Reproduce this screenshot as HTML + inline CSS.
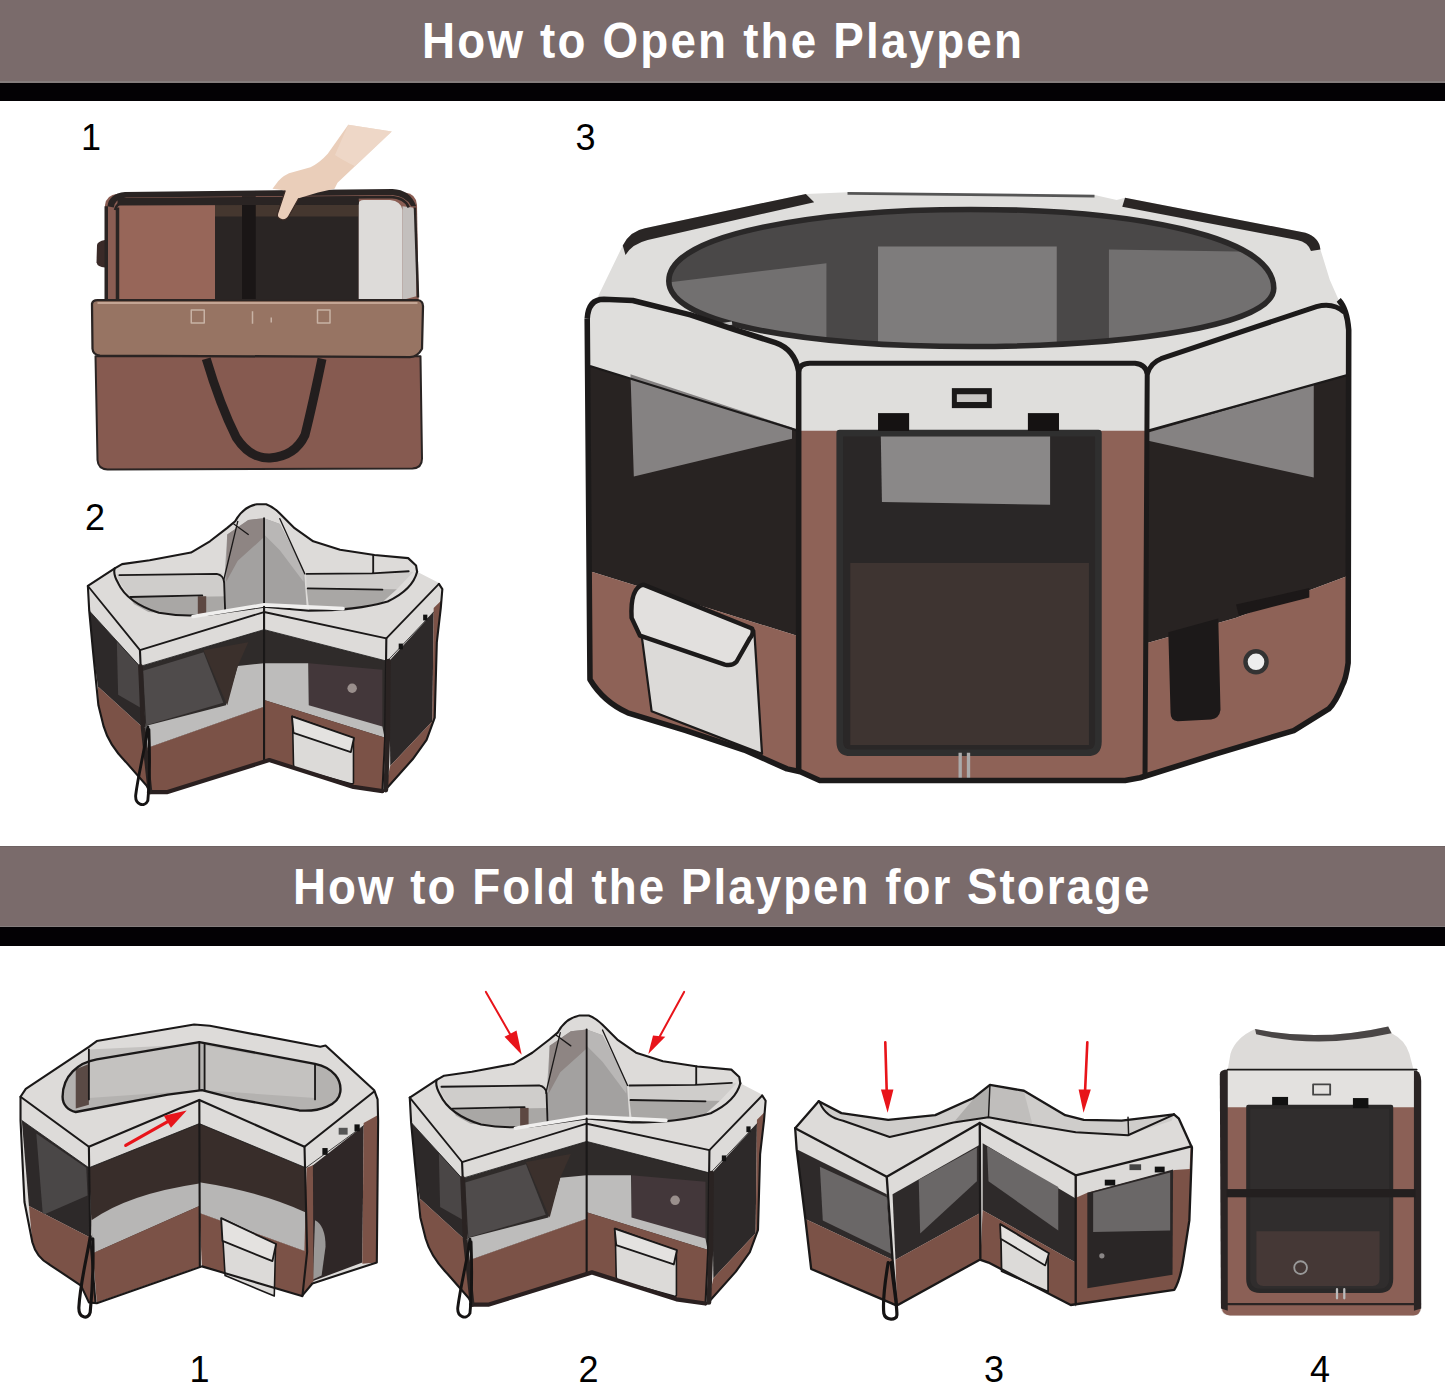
<!DOCTYPE html>
<html><head><meta charset="utf-8">
<style>
html,body{margin:0;padding:0;background:#fff;}
body{width:1445px;height:1384px;position:relative;overflow:hidden;font-family:"Liberation Sans",sans-serif;}
.hdr{position:absolute;left:0;width:1445px;background:#7a6b6b;}
.blk{position:absolute;left:0;width:1445px;background:#030104;}
.ttl{position:absolute;white-space:nowrap;color:#fff;font-weight:bold;font-size:50px;letter-spacing:2.4px;line-height:1;transform:scaleX(0.915);transform-origin:0 0;}
.num{position:absolute;color:#000;font-size:36px;line-height:1;}
svg.pic{position:absolute;left:0;top:0;}
</style></head><body>
<svg class="pic" width="1445" height="1384" viewBox="0 0 1445 1384">
<!--S1P1 bag-->
<g id="p1" transform="translate(80,110) scale(0.25)" stroke-linejoin="round">
 <!-- body back -->
 <path d="M100,380 Q105,340 150,335 L1300,330 Q1345,335 1348,380 L1355,760 L100,760 Z" fill="#8a5d53"/>
 <path d="M68,540 Q70,525 100,520 L100,630 Q70,628 66,610 Z" fill="#3a2a28"/>
 <!-- inner panels -->
 <path d="M150,390 Q152,380 170,380 L540,380 L540,762 L150,762 Z" fill="#976659"/>
 <rect x="540" y="362" width="575" height="402" fill="#2a2524"/>
 <rect x="540" y="380" width="575" height="46" fill="#45372f"/>
 <rect x="648" y="345" width="55" height="418" fill="#1a1616"/>
 <path d="M1115,375 Q1115,360 1135,360 L1240,360 Q1285,365 1290,400 L1290,762 L1115,762 Z" fill="#dddbd9"/>
 <path d="M1290,385 L1330,390 Q1345,400 1345,430 L1345,745 L1290,760 Z" fill="#c3bfbd"/>
 <!-- top zipper bindings -->
 <path d="M110,385 Q115,335 180,328 L1250,316 Q1320,318 1345,385 L1325,385 Q1305,345 1250,340 L185,350 Q140,355 135,390 Z" fill="#2a2423"/>
 <path d="M140,400 Q148,365 200,360 L1240,348 Q1300,350 1315,390" fill="none" stroke="#2a2423" stroke-width="10"/>
 <path d="M150,352 L1115,345 L1115,378 L150,382 Z" fill="#2a2423"/>
 <path d="M105,385 L105,760 M150,390 L150,760" stroke="#2a2423" stroke-width="14"/>
 <path d="M1340,390 L1352,750" stroke="#2a2423" stroke-width="10"/>
 <!-- arm -->
 <path d="M1073,59 L1247,86 L1030,291 L1018,315 L952,330 L875,353 L836,423 Q825,442 809,439 Q785,432 790,415 L821,322 L770,315 L782,299 Q800,270 836,253 L922,229 Q960,210 991,175 Z" fill="#eaceba"/>
 <path d="M1073,59 L1247,86 L1100,225 Q1050,200 1020,180 Z" fill="#f0dccd" opacity="0.7"/>
 <path d="M875,353 L836,423 Q825,442 809,439 Q785,432 790,415 L821,322" fill="none" stroke="#3a2a25" stroke-width="5"/>
 <!-- lower body -->
 <path d="M62,985 L1362,985 L1368,1395 Q1368,1432 1330,1434 L110,1438 Q72,1436 70,1400 Z" fill="#865a50" stroke="#2a2423" stroke-width="8"/>
 <!-- strap -->
 <path d="M505,995 Q560,1180 625,1310 Q680,1395 760,1392 Q860,1385 900,1300 Q930,1180 968,995" fill="none" stroke="#231e1e" stroke-width="36"/>
 <!-- flap -->
 <path d="M48,775 Q50,760 70,760 L1350,760 Q1372,762 1372,785 L1368,955 Q1350,988 1320,988 L80,982 Q52,980 50,955 Z" fill="#977463" stroke="#2a2423" stroke-width="9"/>
 <path d="M70,772 L1350,772" stroke="#c4a594" stroke-width="8"/>
 <rect x="445" y="800" width="52" height="52" fill="none" stroke="#c8b2a5" stroke-width="6"/>
 <rect x="950" y="800" width="50" height="52" fill="none" stroke="#c8b2a5" stroke-width="6"/>
 <path d="M690,805 L690,855 M765,830 L765,850" stroke="#c8b2a5" stroke-width="6"/>
</g>
<!--S1P2 fold-->
<g id="fold2" transform="translate(80,495) scale(0.262950)" stroke-linejoin="round" stroke-linecap="round">
 <!-- silhouette -->
 <path d="M30,346 L132,279 L160,263 L265,248 L422,219 L494,176 L560,125 L590,100 Q620,45 673,35 L708,35 Q735,45 760,70 L816,126 L887,176 L989,208 L1120,228 L1248,240 L1278,268 L1282,292 L1362,333 L1378,355 L1372,430 L1357,560 L1349,847 L1318,931 L1265,1005 L1159,1124 L1150,1128 L1040,1112 L720,1010 L330,1132 L268,1134 L253,1105 L174,1015 Q110,950 90,880 L70,800 L50,600 L35,440 Z" fill="#dddbd9"/>
 <!-- V interior -->
 <path d="M548,335 L560,150 L640,95 L700,88 L760,110 L852,290 L862,425 L700,425 L556,440 Z" fill="#a3a1a0"/>
 <path d="M560,150 L640,95 L700,88 L700,160 L600,250 L556,330 Z" fill="#8e8583"/>
 <path d="M700,88 L760,110 L852,290 L850,330 L760,210 L700,150 Z" fill="#b9b7b6"/>
 <path d="M700,88 L700,425" stroke="#1a1818" stroke-width="7" fill="none"/>
 <path d="M585,110 L640,150 M545,330 L600,100 M855,300 L760,90" stroke="#1a1818" stroke-width="5" fill="none"/>
 <!-- left opening -->
 <path d="M140,300 L540,298 L550,385 L190,390 L150,330 Z" fill="#cfcdcb"/>
 <path d="M190,390 L550,385 L556,440 L450,462 L260,445 L205,415 Z" fill="#a9a7a5"/>
 <rect x="448" y="385" width="32" height="70" fill="#5d4842"/>
 <path d="M150,305 L520,300 Q545,305 548,330 L552,440 M192,388 L465,382" stroke="#1a1818" stroke-width="7" fill="none"/>
 <!-- right opening -->
 <path d="M860,300 L1110,298 L1268,292 L1205,358 L862,355 Z" fill="#cfcdcb"/>
 <path d="M862,355 L1205,358 L1150,408 L1010,440 L872,440 Z" fill="#a9a7a5"/>
 <path d="M862,300 L1110,298 L1250,290 M866,355 L1150,360 M1115,228 L1115,298" stroke="#1a1818" stroke-width="7" fill="none"/>
 <!-- rim outline: outer top -->
 <path d="M30,346 L132,279 L160,263 L265,248 L422,219 L494,176 L560,125 L590,100 Q620,45 673,35 L708,35 Q735,45 760,70 L816,126 L887,176 L989,208 L1120,228 L1248,240 L1278,268 L1282,292" fill="none" stroke="#1a1818" stroke-width="8"/>
 <!-- inner opening rim outline -->
 <path d="M132,279 Q125,300 145,335 Q180,410 300,448 Q420,470 560,445 L700,425 L870,440 Q1050,440 1170,405 Q1265,360 1282,292" fill="none" stroke="#1a1818" stroke-width="8"/>
 <path d="M430,462 L700,418 L1000,432" fill="none" stroke="#f0efee" stroke-width="14"/>
 <!-- left narrow panel -->
 <path d="M35,440 L228,652 L240,885 L68,728 L50,600 Z" fill="#2d2929"/>
 <path d="M140,556 L226,650 L232,810 L145,760 Z" fill="#4a4646"/>
 <path d="M68,728 L240,885 L268,1132 L253,1105 L174,1015 Q110,950 90,880 L70,800 Z" fill="#7b5247"/>
 <!-- front-left panel -->
 <path d="M230,652 L700,512 L700,805 L255,962 Z" fill="#2f2b2a"/>
 <path d="M252,878 L555,800 L600,650 L700,640 L700,805 L255,962 Z" fill="#bdbcbb"/>
 <path d="M240,668 L470,598 L545,790 L252,876 Z" fill="#4f4b4b"/>
 <path d="M470,590 L560,800 L600,650 L640,560 Z" fill="#3b302c"/>
 <path d="M255,962 L700,805 L720,1010 L330,1132 L268,1134 Z" fill="#7b5247"/>
 <!-- front-right panel -->
 <path d="M700,512 L1168,632 L1160,930 L700,805 Z" fill="#2f2b2a"/>
 <path d="M870,640 L1150,665 L1150,900 L870,800 Z" fill="#43373a"/>
 <path d="M700,640 L868,640 L870,800 L1150,880 L1158,922 L700,780 Z" fill="#bdbcbb"/>
 <circle cx="1035" cy="735" r="18" fill="#9a8f8c"/>
 <path d="M700,780 L1158,922 L1150,1128 L1040,1112 L720,1010 L700,1010 Z" fill="#7b5247"/>
 <path d="M808,842 L1040,925 L1040,1095 Q1038,1100 1030,1098 L820,1040 Q812,1036 812,1025 Z" fill="#dcdad8" stroke="#1a1818" stroke-width="6"/>
 <path d="M806,842 L1042,924 L1030,978 L812,905 Z" fill="#e4e2e0" stroke="#1a1818" stroke-width="7"/>
 <!-- right narrow panel -->
 <path d="M1175,632 L1345,445 L1340,860 L1180,1030 Z" fill="#2d2929"/>
 <path d="M1345,430 L1375,400 L1357,560 L1349,847 L1340,860 Z" fill="#7b5247"/>
 <path d="M1180,1030 L1340,860 L1349,847 L1318,931 L1265,1005 L1159,1124 Z" fill="#7b5247"/>
 <rect x="1212" y="565" width="16" height="22" fill="#111"/>
 <rect x="1305" y="455" width="16" height="22" fill="#111"/>
 <!-- front gray bands edges -->
 <path d="M30,346 L228,590 L700,445 M700,445 L1165,545 L1365,338" fill="none" stroke="#1a1818" stroke-width="7"/>
 <path d="M35,440 L228,652 L700,512 L1168,632 L1345,445" fill="none" stroke="#1a1818" stroke-width="3"/>
 <!-- verticals and outer edges -->
 <path d="M30,346 L35,440 L50,600 L70,800 L90,880 Q110,950 174,1015 L253,1105 L268,1134 M228,590 L240,885 L268,1132 M700,425 L700,1010 M1165,545 L1160,930 L1150,1128 M1365,338 L1378,358 L1372,430 L1357,560 L1349,847 L1318,931 L1265,1005 L1159,1124 L1150,1128" fill="none" stroke="#1a1818" stroke-width="8"/>
 <path d="M262,1130 L330,1130 L720,1008 L1040,1110 L1150,1126" fill="none" stroke="#2a2020" stroke-width="16"/>
 <path d="M230,652 L240,885 L266,1128 M1173,632 L1170,930 L1163,1122" fill="none" stroke="#2a2322" stroke-width="18"/>
 <!-- handle loop -->
 <path d="M258,882 C248,960 222,1060 212,1140 C208,1178 245,1190 258,1162 C264,1100 266,1000 262,892" fill="none" stroke="#151313" stroke-width="11"/>
</g>
<use href="#fold2" transform="translate(321.54,509.28) scale(1.004)"/>
<g fill="#e8141a" stroke="none">
 <path d="M485.9,991.9 L510,1034" stroke="#e8141a" stroke-width="2" stroke-linecap="round"/>
 <path d="M504.5,1036.8 L516.5,1030.5 L521.7,1054.8 Z"/>
 <path d="M684.1,991.9 L660,1036" stroke="#e8141a" stroke-width="2" stroke-linecap="round"/>
 <path d="M653,1035.5 L665.3,1036.8 L648.3,1054 Z"/>
</g>
<!--S2P1-->
<g id="q1" transform="translate(10,1010) scale(0.262950)" stroke-linejoin="round" stroke-linecap="round">
 <path d="M40,330 L60,300 L300,140 L330,118 L700,55 L760,60 L1180,140 L1200,135 L1385,305 L1398,340 L1400,420 L1395,960 L1150,1040 L1110,1088 L730,975 L330,1115 L300,1112 L270,1048 L150,968 Q100,940 85,883 L55,730 L40,420 Z" fill="#dddbd9"/>
 <!-- opening -->
 <path d="M200,330 C200,250 260,200 330,188 L720,122 L1160,205 C1232,220 1262,268 1256,312 C1250,360 1180,388 1100,382 L860,338 L730,305 L600,322 L250,388 C220,382 200,360 200,330 Z" fill="#b4b2b0"/>
 <path d="M300,150 L720,130 L720,305 L300,335 Z" fill="#c4c2c0"/>
 <path d="M740,135 L1160,210 L1160,335 L740,305 Z" fill="#c4c2c0"/>
 <path d="M250,225 L300,205 L300,360 L250,375 Z" fill="#5a4a45"/>
 <path d="M300,150 L300,340 M720,122 L720,305 M740,130 L740,305 M1160,205 L1160,340" stroke="#1a1818" stroke-width="7" fill="none"/>
 <path d="M200,330 C200,250 260,200 330,188 L720,122 L1160,205 C1232,220 1262,268 1256,312 C1250,360 1180,388 1100,382 L860,338 L730,305 L600,322 L250,388 C220,382 200,360 200,330 Z" fill="none" stroke="#1a1818" stroke-width="9"/>
 <!-- left narrow panel -->
 <path d="M45,420 L300,600 L305,865 L72,745 Z" fill="#2d2929"/>
 <path d="M100,470 L290,600 L295,705 L125,780 Z" fill="#4a4747"/>
 <path d="M72,745 L305,865 L325,1112 L300,1112 L270,1048 L150,968 Q100,940 85,883 Z" fill="#7b5247"/>
 <!-- front-left -->
 <path d="M300,600 L720,432 L720,772 L315,925 Z" fill="#382d2a"/>
 <path d="M310,800 Q450,700 720,660 L720,745 L315,925 Z" fill="#b7b6b5"/>
 <path d="M315,925 L720,745 L722,975 L330,1112 Z" fill="#7b5247"/>
 <!-- front-right -->
 <path d="M720,432 L1125,600 L1130,920 L720,772 Z" fill="#382d2a"/>
 <path d="M720,655 Q950,690 1125,770 L1130,920 L720,772 Z" fill="#b7b6b5"/>
 <path d="M720,772 L1130,920 L1112,1088 L730,975 Z" fill="#7b5247"/>
 <path d="M805,792 L1010,892 L1005,1088 L818,1010 Z" fill="#dcdad8" stroke="#1a1818" stroke-width="6"/>
 <path d="M803,792 L1012,890 L998,955 L808,878 Z" fill="#e4e2e0" stroke="#1a1818" stroke-width="7"/>
 <!-- right narrow -->
 <path d="M1140,600 L1345,440 L1340,960 L1150,1032 Z" fill="#2f2727"/>
 <path d="M1160,800 Q1200,820 1200,900 L1185,1010 L1152,1025 Z" fill="#9a9897"/>
 <path d="M1345,430 L1398,400 L1395,960 L1340,965 Z" fill="#7b5247"/>
 <path d="M1128,600 L1152,590 L1154,1032 L1115,1085 Z" fill="#7b5247"/>
 <rect x="1188" y="525" width="20" height="26" fill="#111"/>
 <rect x="1310" y="435" width="20" height="26" fill="#111"/>
 <rect x="1250" y="448" width="34" height="26" fill="#555"/>
 <!-- edges -->
 <path d="M40,330 L300,520 L720,342 L1120,520 L1385,310" fill="none" stroke="#1a1818" stroke-width="8"/>
 <path d="M45,420 L300,600 L720,432 L1125,600 L1345,440" fill="none" stroke="#1a1818" stroke-width="3"/>
 <path d="M40,330 L60,300 L300,140 L330,118 L700,55 L760,60 L1180,140 L1200,135 L1385,305 L1398,340 L1400,420 L1395,960 L1150,1040 L1110,1088 L730,975 L330,1115 L300,1112 L270,1048 L150,968 Q100,940 85,883 L55,730 L40,420 Z" fill="none" stroke="#1a1818" stroke-width="8"/>
 <path d="M300,520 L305,865 L325,1112 M720,342 L722,975 M1120,520 L1130,920 L1112,1088" fill="none" stroke="#1a1818" stroke-width="8"/>
 <!-- handle -->
 <path d="M305,862 C295,930 268,1030 262,1130 C260,1172 298,1180 305,1150 C312,1080 318,980 315,870" fill="none" stroke="#151313" stroke-width="12"/>
 <!-- red arrow -->
 <path d="M440,515 L620,413" stroke="#e8141a" stroke-width="12" fill="none"/>
 <path d="M585,402 L672,382 L612,448 Z" fill="#e8141a"/>
</g>
<!--S2P3-->
<g id="q3" transform="translate(785,1030) scale(0.290698)" stroke-linejoin="round" stroke-linecap="round">
 <path d="M35,338 L116,245 L194,286 L355,309 L517,293 L646,235 L705,189 L822,209 L964,293 L1028,309 L1158,312 L1338,290 L1355,305 L1400,405 L1391,655 L1371,784 Q1360,860 1339,894 L983,946 L700,800 L670,790 L385,948 L90,822 L70,650 L40,410 Z" fill="#dddbd9"/>
 <!-- inner rim -->
 <path d="M116,245 L194,286 L355,309 L517,293 L646,235 L705,189 L822,209 L964,293 L1028,309 L1158,312 L1338,290 L1330,312 L1180,362 L1000,352 L820,322 L700,300 L580,318 L360,368 L150,300 Z" fill="#cfcdcb"/>
 <path d="M580,318 L646,240 L705,192 L700,300 Z" fill="#b0aeac"/>
 <path d="M705,192 L822,212 L850,320 L700,300 Z" fill="#c0bebc"/>
 <path d="M120,250 Q140,300 200,312 L360,368 L580,318 L700,300 L820,322 L1000,352 L1180,362 L1336,292" fill="none" stroke="#1a1818" stroke-width="7"/>
 <path d="M705,189 L700,300 M1180,300 L1182,362" fill="none" stroke="#1a1818" stroke-width="5"/>
 <!-- left narrow panel -->
 <path d="M40,410 L350,565 L370,790 L70,650 Z" fill="#2e2a2a"/>
 <path d="M120,470 L350,575 L365,770 L130,655 Z" fill="#6a6767"/>
 <path d="M70,650 L370,790 L385,948 L90,822 Z" fill="#7b5247"/>
 <!-- front-left -->
 <path d="M370,565 L670,395 L670,630 L380,790 Z" fill="#2e2a2a"/>
 <path d="M460,515 L660,405 L660,520 L465,700 Z" fill="#6a6767"/>
 <path d="M380,790 L670,630 L672,790 L385,948 Z" fill="#7b5247"/>
 <!-- front-right -->
 <path d="M680,390 L1000,580 L1000,800 L680,620 Z" fill="#2e2a2a"/>
 <path d="M695,400 L940,540 L940,690 L700,520 Z" fill="#6a6767"/>
 <path d="M680,620 L1000,800 L1000,946 L983,946 L700,800 L672,790 Z" fill="#7b5247"/>
 <path d="M742,668 L905,768 L905,900 L745,830 Z" fill="#dcdad8" stroke="#1a1818" stroke-width="6"/>
 <path d="M740,668 L908,768 L895,810 L742,718 Z" fill="#e4e2e0" stroke="#1a1818" stroke-width="6"/>
 <!-- right panel -->
 <path d="M1000,505 L1398,402 L1391,655 L1371,784 Q1360,860 1339,894 L983,946 L1000,946 Z" fill="#7b5247"/>
 <path d="M1002,500 L1395,400 L1392,478 L1340,482 L1040,560 L1005,575 Z" fill="#dcdad8"/>
 <path d="M1040,560 L1335,480 L1333,842 L1040,888 Z" fill="#2a2626"/>
 <path d="M1060,560 L1325,490 L1325,690 L1060,695 Z" fill="#6a6767"/>
 <circle cx="1090" cy="777" r="9" fill="#8a8686"/>
 <rect x="1185" y="462" width="40" height="20" fill="#444"/>
 <rect x="1100" y="515" width="36" height="20" fill="#111"/>
 <rect x="1272" y="470" width="34" height="20" fill="#111"/>
 <!-- edges -->
 <path d="M35,338 L350,505 L670,320 L1000,500 L1398,400" fill="none" stroke="#1a1818" stroke-width="8"/>
 <path d="M35,338 L116,245 M1338,290 L1355,305 L1400,405 L1391,655 L1371,784 Q1360,860 1339,894 L983,946 L700,800 L670,790 L385,948 L90,822 L70,650 L40,410 L35,338 M350,505 L370,790 L385,948 M670,320 L672,790 M1000,500 L1000,946" fill="none" stroke="#1a1818" stroke-width="8"/>
 <path d="M116,245 L194,286 L355,309 L517,293 L646,235 L705,189 L822,209 L964,293 L1028,309 L1158,312 L1338,290" fill="none" stroke="#1a1818" stroke-width="8"/>
 <!-- handle -->
 <path d="M355,800 C345,860 335,930 340,975 C345,1000 385,1000 385,980 C385,940 372,870 365,800" fill="none" stroke="#151313" stroke-width="11"/>
 <!-- red arrows -->
 <path d="M345,42 L350,215 M1040,42 L1032,215" stroke="#e8141a" stroke-width="9" fill="none"/>
 <path d="M330,205 L373,205 L353,285 Z M1010,205 L1052,205 L1027,285 Z" fill="#e8141a"/>
</g>
<!--S2P4-->
<g id="q4" transform="translate(1205,1015) scale(0.227583)" stroke-linejoin="round" stroke-linecap="round">
 <path d="M220,62 Q500,120 805,50 L820,80 Q880,110 898,170 L915,235 L935,255 L950,1290 Q945,1322 915,1322 L110,1322 Q72,1318 70,1290 L65,270 L100,240 L112,170 Q135,100 220,62 Z" fill="#dddbd9"/>
 <path d="M220,62 Q500,120 805,50 L820,80 Q500,150 225,85 Z" fill="#4a4646"/>
 <path d="M100,240 L930,240 L935,410 L98,410 Z" fill="#e3e1df"/>
 <path d="M80,405 L940,405 L948,1290 Q945,1320 915,1320 L110,1320 Q75,1318 75,1290 Z" fill="#8b6056"/>
 <path d="M65,260 Q66,240 100,240 L100,1300 L70,1290 Z" fill="#2a2424"/>
 <path d="M930,245 Q950,255 950,290 L950,1290 L918,1300 L918,245 Z" fill="#2a2424"/>
 <path d="M190,403 L818,403 L818,1160 Q818,1212 766,1212 L242,1212 Q190,1212 190,1160 Z" fill="#302d2d" stroke="#2a2828" stroke-width="18"/>
 <path d="M226,950 L767,950 L767,1160 Q767,1191 736,1191 L257,1191 Q226,1191 226,1160 Z" fill="#453836"/>
 <rect x="95" y="765" width="830" height="36" fill="#231f1f"/>
 <rect x="295" y="360" width="70" height="36" fill="#111"/>
 <rect x="650" y="365" width="68" height="44" fill="#111"/>
 <rect x="475" y="305" width="75" height="45" fill="none" stroke="#444" stroke-width="8"/>
 <circle cx="420" cy="1110" r="28" fill="none" stroke="#999" stroke-width="8"/>
 <path d="M580,1205 L580,1245 M612,1205 L612,1245" stroke="#bbb" stroke-width="10"/>
 <path d="M80,1270 L945,1270" stroke="#2a2424" stroke-width="10"/>
 <path d="M100,240 L930,240" stroke="#1a1818" stroke-width="8"/>
 
</g>
<!--S1P3-->
<g id="p3" transform="translate(570,180) scale(0.55503)" stroke-linejoin="round">
 <!-- silhouette light gray -->
 <path d="M31,250 L95,118 Q108,92 135,87 L425,25 L500,22 L945,27 L985,36 L1000,32 L1325,95 Q1350,103 1352,125 L1369,180 L1385,216 Q1400,232 1403,270 L1402,870 Q1398,900 1391,912 Q1380,940 1367,953 L1304,992 L1164,1034 L1027,1077 L1000,1082 L450,1082 L415,1066 L391,1061 L314,1027 L209,992 L104,960 Q60,940 36,900 Z" fill="#dfdedc"/>
 <!-- back-left & back-right dark bindings -->
 <path d="M95,118 Q108,92 135,87 L425,25 L440,40 L140,108 Q112,115 100,135 Z" fill="#2a2625"/>
 <path d="M1000,32 L1325,95 Q1350,103 1352,125 L1335,128 Q1330,112 1310,108 L995,48 Z" fill="#2a2625"/>
 <path d="M500,24 L945,29" stroke="#555" stroke-width="5" fill="none"/>
 <!-- opening -->
 <clipPath id="opclip"><path d="M178,182 C178,95 450,53 722,53 C1010,53 1268,100 1268,195 C1268,262 1010,300 722,300 C440,300 178,262 178,182 Z"/></clipPath>
 <path d="M178,182 C178,95 450,53 722,53 C1010,53 1268,100 1268,195 C1268,262 1010,300 722,300 C440,300 178,262 178,182 Z" fill="#4a4848"/>
 <g clip-path="url(#opclip)">
  <path d="M150,188 L462,150 L462,300 L150,300 Z" fill="#727070"/>
  <path d="M555,120 L877,120 L877,300 L555,300 Z" fill="#7e7c7c"/>
  <path d="M971,125 L1290,130 L1290,300 L971,300 Z" fill="#727070"/>
  <path d="M150,262 Q722,330 1290,262 L1290,320 L150,320 Z" fill="#4e4c4c"/>
 </g>
 <path d="M178,182 C178,95 450,53 722,53 C1010,53 1268,100 1268,195 C1268,262 1010,300 722,300 C440,300 178,262 178,182 Z" fill="none" stroke="#2a2828" stroke-width="10"/>
 <path d="M265,262 L292,258" stroke="#bbb" stroke-width="6"/>
 <!-- left panel -->
 <path d="M36,335 L412,452 L412,822 L36,705 Z" fill="#282322"/>
 <path d="M109,350 L400,446 L400,466 L115,534 Z" fill="#858282"/>
 <path d="M36,705 L412,822 L412,1064 L391,1061 L314,1027 L209,992 L104,960 Q60,940 36,900 Z" fill="#8e6257"/>
 <path d="M129,820 L332,812 L346,1034 L147,957 Z" fill="#dcdad8" stroke="#1c1a1a" stroke-width="4"/>
 <path d="M111,789 Q108,735 132,729 L328,808 Q332,816 324,826 L300,868 Q292,876 279,873 L126,821 Z" fill="#e2e0de" stroke="#1c1a1a" stroke-width="8"/>
 <!-- front panel -->
 <path d="M412,452 L1038,452 L1036,1077 L1000,1082 L450,1082 L415,1066 Z" fill="#8e6257"/>
 <path d="M486,456 L952,456 L952,1012 Q952,1032 932,1032 L506,1032 Q486,1032 486,1012 Z" fill="#2a2727" stroke="#2f2f2f" stroke-width="12"/>
 <path d="M560,462 L865,462 L865,585 L562,580 Z" fill="#8a8888"/>
 <path d="M505,690 L935,690 L935,1018 L505,1018 Z" fill="#3e3431"/>
 <rect x="555" y="420" width="56" height="32" fill="#151212"/>
 <rect x="825" y="420" width="56" height="32" fill="#151212"/>
 <rect x="688" y="375" width="72" height="36" fill="#1a1818"/>
 <rect x="697" y="386" width="54" height="14" fill="#c8c6c4"/>
 <path d="M703,1032 L703,1080 M718,1032 L718,1080" stroke="#aaa" stroke-width="6"/>
 <!-- right panel -->
 <path d="M1040,452 L1402,351 L1402,713 L1199,789 L1040,834 Z" fill="#282322"/>
 <path d="M1042,455 L1340,369 L1340,536 L1042,470 Z" fill="#858282"/>
 <path d="M1040,834 L1199,789 L1402,713 L1402,870 Q1398,900 1391,912 Q1380,940 1367,953 L1304,992 L1164,1034 L1038,1074 Z" fill="#8e6257"/>
 <path d="M1200,765 L1332,735 L1332,752 L1205,785 Z" fill="#1c1818"/>
 <path d="M1078,815 L1168,790 L1172,955 Q1170,970 1155,972 L1095,975 Q1082,975 1082,960 Z" fill="#1c1919"/>
 <circle cx="1236" cy="868" r="19" fill="#eee" stroke="#333" stroke-width="8"/>
 <!-- outlines -->
 <path d="M31,250 L36,900 Q60,940 104,960 L209,992 L314,1027 L391,1061 L415,1066 L450,1082 L1000,1082 L1027,1077 L1164,1034 L1304,992 L1367,953 Q1380,940 1391,912 Q1398,900 1402,870 L1403,270 Q1400,232 1385,216" fill="none" stroke="#1c1a1a" stroke-width="10"/>
 <path d="M31,250 Q33,215 61,215 L113,217 L217,243 L295,269 L370,293 Q405,305 412,345 L412,1066" fill="none" stroke="#1c1a1a" stroke-width="10"/>
 <path d="M412,345 Q414,330 432,330 L1018,330 Q1038,332 1040,350 L1036,1077" fill="none" stroke="#1c1a1a" stroke-width="9"/>
 <path d="M1040,350 Q1045,330 1065,322 L1345,228 Q1375,220 1395,238" fill="none" stroke="#1c1a1a" stroke-width="9"/>
 <path d="M36,335 L412,452 M1040,452 L1402,351" fill="none" stroke="#1c1a1a" stroke-width="4"/>
</g>
</svg>
<div class="hdr" style="top:0;height:82px"></div>
<div class="hdr" style="top:80.5px;height:2px;background:#857d7d"></div>
<div class="blk" style="top:82.5px;height:18.5px"></div>
<div class="ttl" id="t1" style="left:422px;top:15.5px">How to Open the Playpen</div>
<div class="hdr" style="top:846px;height:81px"></div>
<div class="hdr" style="top:845.5px;height:1px;background:#6e6262"></div>
<div class="hdr" style="top:925.5px;height:1.5px;background:#857d7d"></div>
<div class="blk" style="top:927px;height:18.5px"></div>
<div class="ttl" id="t2" style="left:293px;top:861.5px;letter-spacing:2.2px">How to Fold the Playpen for Storage</div>
<div class="num" style="left:81px;top:120px">1</div>
<div class="num" style="left:85px;top:500px">2</div>
<div class="num" style="left:575.5px;top:120px">3</div>
<div class="num" style="left:189.5px;top:1352px">1</div>
<div class="num" style="left:578.5px;top:1352px">2</div>
<div class="num" style="left:984px;top:1352px">3</div>
<div class="num" style="left:1310px;top:1352px">4</div>
</body></html>
